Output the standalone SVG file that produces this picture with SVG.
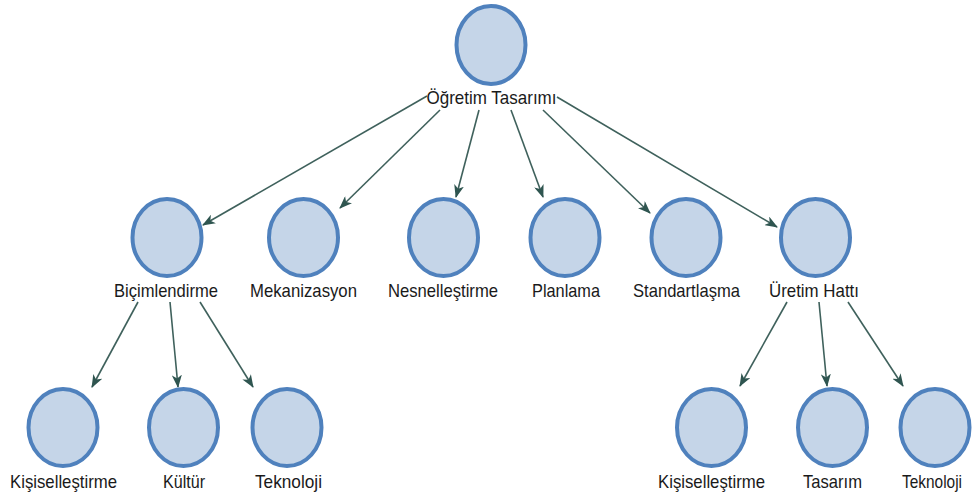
<svg xmlns="http://www.w3.org/2000/svg" width="973" height="498" viewBox="0 0 973 498">
  <style>
    .node ellipse { fill: #c5d5e8; stroke: #4f81bd; stroke-width: 4; }
    .node text { font-family: "Liberation Sans", Arial, sans-serif; font-size: 18.5px; fill: #1a1a1a; text-anchor: middle; }
    .links line { stroke: #3f615c; stroke-width: 1.6; marker-end: url(#arrow); }
  </style>
  <defs>
    <marker id="arrow" viewBox="0 0 13 10" refX="12" refY="5" markerWidth="13" markerHeight="10" markerUnits="userSpaceOnUse" orient="auto">
      <path d="M0,0 L13,5 L0,10 L3.5,5 z" fill="#2f5550"/>
    </marker>
  </defs>
  <rect width="973" height="498" fill="#ffffff"/>

  <g class="links">
    <line x1="427" y1="96" x2="203" y2="225"/>
    <line x1="440" y1="110" x2="340" y2="208"/>
    <line x1="479" y1="110" x2="456" y2="197"/>
    <line x1="511" y1="110" x2="543" y2="197"/>
    <line x1="543" y1="110" x2="650" y2="213"/>
    <line x1="557" y1="97" x2="777" y2="227"/>
    <line x1="138" y1="302" x2="92" y2="387"/>
    <line x1="170" y1="302" x2="178" y2="387"/>
    <line x1="200" y1="302" x2="253" y2="387"/>
    <line x1="787" y1="302" x2="740" y2="386"/>
    <line x1="819" y1="302" x2="827" y2="386"/>
    <line x1="848" y1="302" x2="903" y2="386"/>
  </g>

  <g id="ogretim-tasarimi" class="node">
    <ellipse cx="491" cy="45" rx="34.5" ry="39"/>
    <text x="491.5" y="104" textLength="130" lengthAdjust="spacingAndGlyphs">Öğretim Tasarımı</text>
  </g>
  <g id="bicimlendirme" class="node">
    <ellipse cx="167" cy="237.5" rx="34.5" ry="38.5"/>
    <text x="166" y="297" textLength="104" lengthAdjust="spacingAndGlyphs">Biçimlendirme</text>
  </g>
  <g id="mekanizasyon" class="node">
    <ellipse cx="303.5" cy="237.5" rx="34.5" ry="38.5"/>
    <text x="303.5" y="297" textLength="107" lengthAdjust="spacingAndGlyphs">Mekanizasyon</text>
  </g>
  <g id="nesnellestirme" class="node">
    <ellipse cx="443.5" cy="237.5" rx="34.5" ry="38.5"/>
    <text x="443" y="297" textLength="110" lengthAdjust="spacingAndGlyphs">Nesnelleştirme</text>
  </g>
  <g id="planlama" class="node">
    <ellipse cx="565" cy="237.5" rx="34.5" ry="38.5"/>
    <text x="566" y="297" textLength="68" lengthAdjust="spacingAndGlyphs">Planlama</text>
  </g>
  <g id="standartlasma" class="node">
    <ellipse cx="686" cy="237.5" rx="34.5" ry="38.5"/>
    <text x="686.5" y="297" textLength="107" lengthAdjust="spacingAndGlyphs">Standartlaşma</text>
  </g>
  <g id="uretim-hatti" class="node">
    <ellipse cx="815.5" cy="237.5" rx="34.5" ry="38.5"/>
    <text x="814" y="297" textLength="90" lengthAdjust="spacingAndGlyphs">Üretim Hattı</text>
  </g>
  <g id="kisisellestirme-1" class="node">
    <ellipse cx="63" cy="427.5" rx="34.5" ry="38.5"/>
    <text x="63.5" y="488" textLength="107" lengthAdjust="spacingAndGlyphs">Kişiselleştirme</text>
  </g>
  <g id="kultur" class="node">
    <ellipse cx="183.5" cy="427.5" rx="34.5" ry="38.5"/>
    <text x="184" y="488" textLength="42" lengthAdjust="spacingAndGlyphs">Kültür</text>
  </g>
  <g id="teknoloji-1" class="node">
    <ellipse cx="287" cy="427.5" rx="34.5" ry="38.5"/>
    <text x="288.5" y="488" textLength="67" lengthAdjust="spacingAndGlyphs">Teknoloji</text>
  </g>
  <g id="kisisellestirme-2" class="node">
    <ellipse cx="711.5" cy="427.5" rx="34.5" ry="38.5"/>
    <text x="711.5" y="488" textLength="107" lengthAdjust="spacingAndGlyphs">Kişiselleştirme</text>
  </g>
  <g id="tasarim" class="node">
    <ellipse cx="832.5" cy="427.5" rx="34.5" ry="38.5"/>
    <text x="832.5" y="488" textLength="59" lengthAdjust="spacingAndGlyphs">Tasarım</text>
  </g>
  <g id="teknoloji-2" class="node">
    <ellipse cx="935" cy="427.5" rx="34.5" ry="38.5"/>
    <text x="932" y="488" textLength="60" lengthAdjust="spacingAndGlyphs">Teknoloji</text>
  </g>
</svg>
